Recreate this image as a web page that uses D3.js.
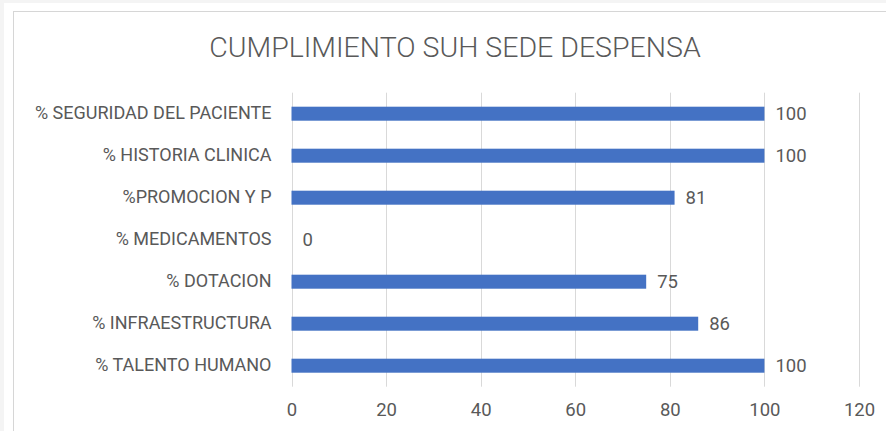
<!DOCTYPE html>
<html>
<head>
<meta charset="utf-8">
<script src="https://cdn.jsdelivr.net/npm/d3@7"></script>
<style>
  body { margin: 0; background: #f4f4f4; }
  svg { display: block; }
  text { font-family: Roboto, 'Open Sans', sans-serif; fill: #595959; }
</style>
</head>
<body>
<script>
// chart data
const categories = ['% SEGURIDAD DEL PACIENTE', '% HISTORIA CLINICA', '%PROMOCION Y P',
    '% MEDICAMENTOS', '% DOTACION', '% INFRAESTRUCTURA', '% TALENTO HUMANO'];
const values = [100, 100, 81, 0, 75, 86, 100];
const xTicks = [0, 20, 40, 60, 80, 100, 120];
const title = 'CUMPLIMIENTO SUH SEDE DESPENSA';

const svgWidth = 886;
const svgHeight = 431;
const margin = { top: 92.7, right: 27, bottom: 44.3, left: 291.5 };

const data = categories.map((c, i) => ({ cat: c, val: values[i] }));

const svg = d3.select('body')
    .append('svg')
    .attr('width', svgWidth)
    .attr('height', svgHeight);

// chart area frame
svg.append('rect')
    .attr('x', 4).attr('y', 3)
    .attr('width', svgWidth).attr('height', svgHeight)
    .attr('fill', '#fff');
svg.append('rect')
    .attr('x', 13.5).attr('y', 11.5)
    .attr('width', svgWidth).attr('height', svgHeight)
    .attr('fill', '#fff')
    .attr('stroke', '#d6d6d6');

const xScale = d3.scaleLinear()
    .domain([0, 120])
    .range([margin.left, svgWidth - margin.right]);

const yScale = d3.scaleBand()
    .domain(categories)
    .range([margin.top, svgHeight - margin.bottom])
    .paddingInner(2 / 3)
    .paddingOuter(1 / 3);

// gridlines
svg.append('g')
    .selectAll('line')
    .data(xTicks)
    .enter()
    .append('line')
    .attr('x1', d => Math.round(xScale(d)) + 0.5)
    .attr('x2', d => Math.round(xScale(d)) + 0.5)
    .attr('y1', margin.top)
    .attr('y2', svgHeight - margin.bottom)
    .attr('stroke', '#d9d9d9')
    .attr('stroke-width', 1);

// x axis labels
svg.append('g')
    .attr('transform', `translate(0,${svgHeight - margin.bottom})`)
    .call(d3.axisBottom(xScale).tickValues(xTicks).tickSize(0).tickPadding(16))
    .call(g => g.select('.domain').remove())
    .selectAll('text')
    .attr('font-size', 18.5)
    .attr('fill', '#595959');

// y axis labels
svg.append('g')
    .attr('transform', `translate(${margin.left},0)`)
    .call(d3.axisLeft(yScale).tickSize(0).tickPadding(20))
    .call(g => g.select('.domain').remove())
    .selectAll('text')
    .attr('font-size', 18)
    .attr('fill', '#595959');

svg.selectAll('.tick text').attr('font-family', null);

// bars
svg.selectAll('.bar')
    .data(data)
    .enter()
    .append('rect')
    .attr('class', 'bar')
    .attr('x', xScale(0))
    .attr('y', d => yScale(d.cat))
    .attr('width', d => xScale(d.val) - xScale(0))
    .attr('height', yScale.bandwidth())
    .attr('fill', '#4472c4');

// value labels
svg.selectAll('.val')
    .data(data)
    .enter()
    .append('text')
    .attr('class', 'val')
    .attr('x', d => xScale(d.val) + 11)
    .attr('y', d => yScale(d.cat) + yScale.bandwidth() / 2)
    .attr('dy', '0.35em')
    .attr('font-size', 18.5)
    .text(d => d.val);

// title
svg.append('text')
    .attr('x', 455)
    .attr('y', 57)
    .attr('text-anchor', 'middle')
    .attr('font-size', 28.5)
    .attr('font-weight', 300)
    .text(title);
</script>
</body>
</html>
